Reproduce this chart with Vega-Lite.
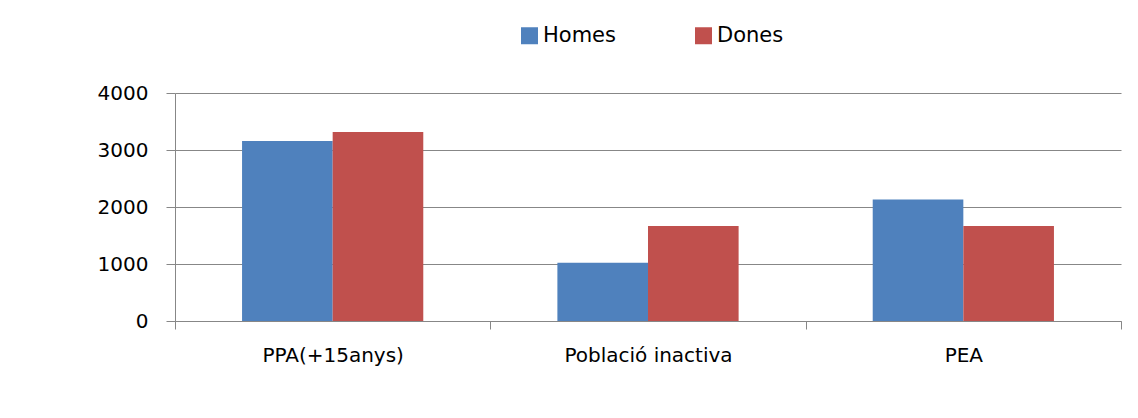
{
  "$schema": "https://vega.github.io/schema/vega-lite/v6.json",
  "width": 946,
  "height": 228,
  "autosize": "none",
  "padding": {"left": 175, "top": 93, "right": 17, "bottom": 97},
  "background": "white",
  "data": {
    "values": [
      {"categoria": "PPA(+15anys)", "sexe": "Homes", "valor": 3158},
      {"categoria": "PPA(+15anys)", "sexe": "Dones", "valor": 3316},
      {"categoria": "Població inactiva", "sexe": "Homes", "valor": 1020},
      {"categoria": "Població inactiva", "sexe": "Dones", "valor": 1667},
      {"categoria": "PEA", "sexe": "Homes", "valor": 2130},
      {"categoria": "PEA", "sexe": "Dones", "valor": 1665}
    ]
  },
  "mark": {"type": "bar"},
  "encoding": {
    "x": {
      "field": "categoria",
      "type": "nominal",
      "sort": ["PPA(+15anys)", "Població inactiva", "PEA"],
      "scale": {"paddingInner": 0, "paddingOuter": 0},
      "axis": {
        "title": null,
        "labelAngle": 0,
        "tickBand": "extent",
        "tickSize": 8,
        "tickColor": "#878787",
        "domainColor": "#878787",
        "labelPadding": 16,
        "labelBaseline": "top",
        "labelFontSize": 20,
        "labelFont": "DejaVu Sans",
        "labelColor": "#000000",
        "grid": false
      }
    },
    "xOffset": {"field": "sexe", "type": "nominal", "sort": ["Homes", "Dones"], "scale": {"paddingInner": 0, "paddingOuter": 0.74}},
    "y": {
      "field": "valor",
      "type": "quantitative",
      "scale": {"domain": [0, 4000], "nice": false},
      "axis": {
        "title": null,
        "values": [0, 1000, 2000, 3000, 4000],
        "format": "d",
        "tickSize": 9,
        "tickColor": "#878787",
        "domainColor": "#878787",
        "gridColor": "#878787",
        "labelPadding": 18,
        "labelFontSize": 20,
        "labelFont": "DejaVu Sans",
        "labelColor": "#000000"
      }
    },
    "color": {
      "field": "sexe",
      "type": "nominal",
      "sort": ["Homes", "Dones"],
      "scale": {"domain": ["Homes", "Dones"], "range": ["#4F81BD", "#C0504D"]},
      "legend": {
        "title": null,
        "orient": "none",
        "direction": "horizontal",
        "legendX": 344,
        "legendY": -68,
        "symbolType": "square",
        "symbolSize": 289,
        "symbolStrokeWidth": 0,
        "labelFontSize": 21,
        "labelFont": "DejaVu Sans",
        "labelColor": "#000000",
        "labelOffset": 3,
        "columnPadding": 77
      }
    }
  },
  "config": {
    "view": {"stroke": null},
    "axis": {"gridWidth": 1, "domainWidth": 1, "tickWidth": 1}
  }
}
